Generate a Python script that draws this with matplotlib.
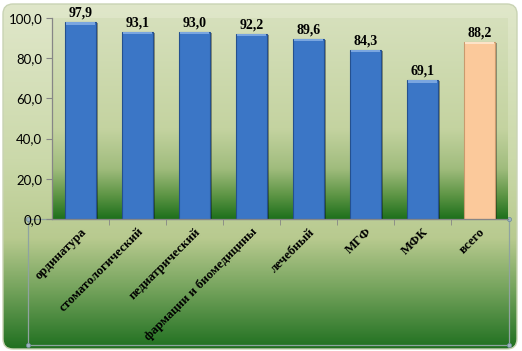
import numpy as np
import matplotlib.pyplot as plt
from matplotlib.patches import FancyBboxPatch, Rectangle
from matplotlib.ticker import FuncFormatter

# данные
categories = ['ординатура', 'стоматологический', 'педиатрический',
              'фармации и биомедицины', 'лечебный', 'МГФ', 'МФК', 'всего']
values = [97.9, 93.1, 93.0, 92.2, 89.6, 84.3, 69.1, 88.2]
bar_colors = ['#3b76c6'] * 7 + ['#fbc99b']
edge_colors = ['#24508f'] * 7 + ['#c99a6e']
top_colors = ['#7aa6e0'] * 7 + ['#fde3c8']

W, H = 522, 351
fig = plt.figure(figsize=(W / 100, H / 100), dpi=100)
fig.patch.set_facecolor('white')


def vgrad(stops, n=256):
    # stops: list of (t, (r,g,b)), t from top (0) to bottom (1)
    t = np.linspace(0, 1, n)
    ts = [s[0] for s in stops]
    img = np.zeros((n, 1, 3))
    for c in range(3):
        img[:, 0, c] = np.interp(t, ts, [s[1][c] / 255 for s in stops])
    return img


# фон области диаграммы
bg = fig.add_axes([0, 0, 1, 1], zorder=-2)
bg.set_xlim(0, W)
bg.set_ylim(H, 0)
bg.axis('off')
chart_img = vgrad([(0, (224, 231, 202)), (0.45, (203, 217, 170)),
                   (0.68, (184, 202, 143)), (0.82, (120, 165, 95)),
                   (1.0, (32, 112, 32))])
im = bg.imshow(chart_img, extent=(3, 517, 349, 4), aspect='auto')
box = FancyBboxPatch((3, 4), 514, 345, boxstyle='round,pad=0,rounding_size=10',
                     facecolor='none', edgecolor='#c9d3b4', lw=1.0)
bg.add_patch(box)
im.set_clip_path(box)

# рамка выделения под осью
bg.add_patch(Rectangle((27.5, 219), 481, 126, fill=False, edgecolor='#8fa3a0', lw=0.9))
for px, py in [(27.5, 219), (27.5, 345), (508.5, 219), (508.5, 345)]:
    bg.plot(px, py, 'o', ms=3, color='#9fb3c0', mec='#6f8a9a', mew=0.5)

# область построения
ax = fig.add_axes([52 / W, (H - 219) / H, 456 / W, 201 / H])
ax.set_facecolor('none')
x = np.arange(len(categories))
ax.set_xlim(-0.5, len(categories) - 0.5)
ax.set_ylim(0, 100)

plot_img = vgrad([(0, (214, 224, 188)), (0.55, (196, 211, 160)),
                  (0.75, (160, 188, 125)), (0.88, (95, 150, 70)),
                  (1.0, (30, 112, 28))])
ax.imshow(plot_img, extent=(-0.5, len(categories) - 0.5, 0, 100),
          aspect='auto', zorder=0)

# тень и столбики
ax.bar(x + 0.04, np.array(values) - 0.6, width=0.54, color='black',
       alpha=0.35, zorder=1)
bars = ax.bar(x, values, width=0.54, color=bar_colors, edgecolor=edge_colors,
              linewidth=0.8, zorder=2)
# светлая фаска сверху
ax.bar(x, 1.2, bottom=np.array(values) - 1.2, width=0.50, color=top_colors,
       linewidth=0, zorder=2.5)

for xi, v in zip(x, values):
    ax.text(xi, v + 1.2, f'{v:.1f}'.replace('.', ','), ha='center', va='bottom',
            fontsize=10, fontweight='bold', family='Liberation Serif', zorder=3)

# оси
for s in ['top', 'right']:
    ax.spines[s].set_visible(False)
for s in ['left', 'bottom']:
    ax.spines[s].set_color('#868686')
    ax.spines[s].set_linewidth(0.9)
    ax.spines[s].set_zorder(4)

ax.set_yticks(np.arange(0, 101, 20))
ax.yaxis.set_major_formatter(FuncFormatter(lambda v, p: f'{v:.1f}'.replace('.', ',')))
ax.tick_params(axis='y', length=4, color='#868686', labelsize=9.5, pad=3)
for lab in ax.get_yticklabels():
    lab.set_family('Lato')

ax.set_xticks(x)
ax.set_xticklabels([])
ax.tick_params(axis='x', which='major', length=0)
ax.set_xticks(np.arange(0.5, len(categories) - 0.5, 1), minor=True)
ax.tick_params(axis='x', which='minor', length=4, color='#868686')

for xi, lab in zip(x, categories):
    ax.annotate(lab, xy=(xi, 0), xycoords=('data', 'axes fraction'),
                xytext=(3, -8), textcoords='offset points', rotation=45,
                ha='right', va='center', rotation_mode='anchor',
                fontsize=9.3, fontweight='bold', family='Liberation Serif')

fig.savefig('out.png', dpi=100)
